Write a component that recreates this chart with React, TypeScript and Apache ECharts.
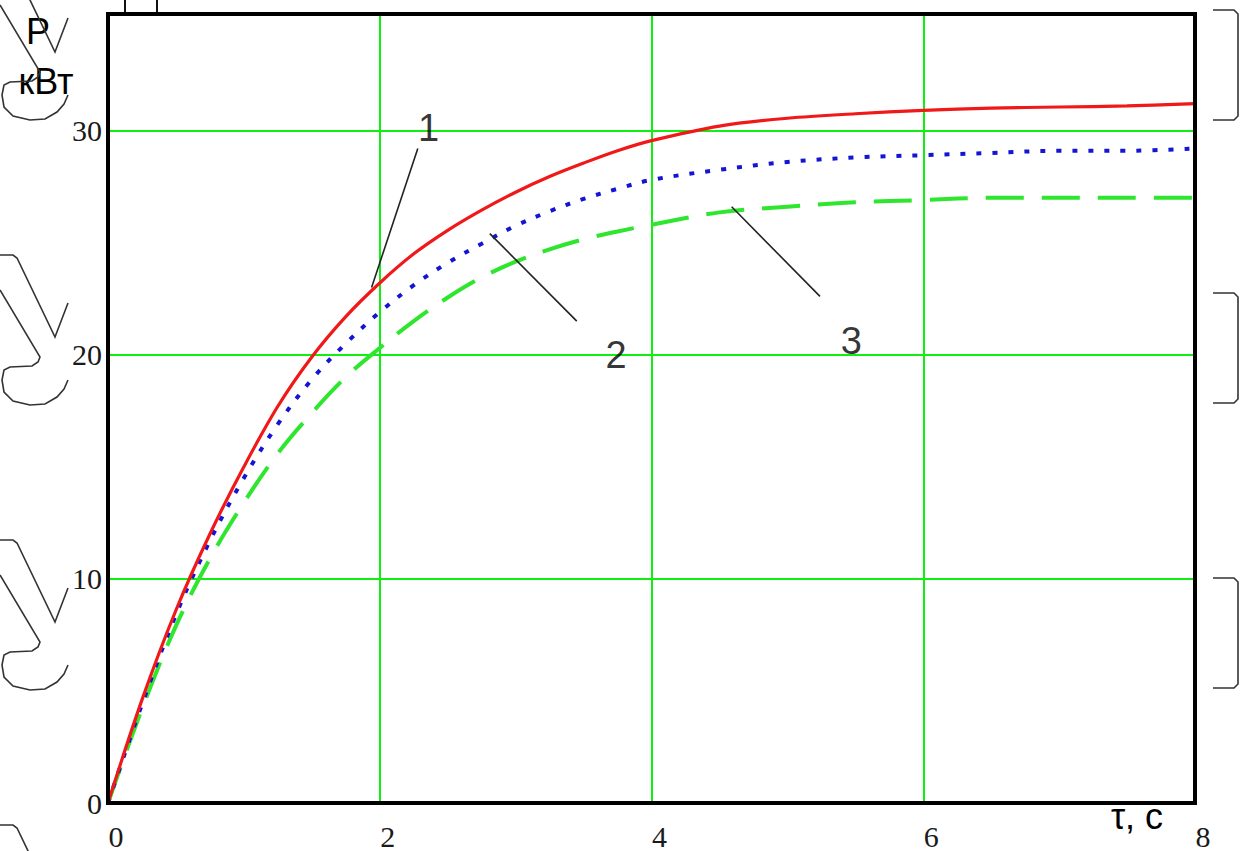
import React, { useEffect, useRef } from "react";
import * as echarts from "echarts";

// time, s
const timeS = [0, 0.25, 0.5, 0.75, 1, 1.25, 1.5, 1.75, 2, 2.25, 2.5, 2.75, 3, 3.25, 3.5, 3.75, 4, 4.5, 5, 5.5, 6, 6.5, 7, 7.5, 8];
// P, kW — curve 1 (red, solid)
const powerCurve1 = [0, 4.6, 8.6, 12.0, 15.0, 17.7, 19.9, 21.7, 23.2, 24.5, 25.55, 26.45, 27.25, 27.95, 28.55, 29.1, 29.55, 30.2, 30.55, 30.75, 30.9, 31.0, 31.05, 31.1, 31.2];
// curve 2 (blue, dotted)
const powerCurve2 = [0, 4.4, 8.4, 11.7, 14.5, 16.9, 18.9, 20.5, 21.9, 23.1, 24.1, 24.95, 25.75, 26.4, 26.95, 27.4, 27.8, 28.25, 28.6, 28.8, 28.9, 29.0, 29.1, 29.1, 29.2];
// curve 3 (green, dashed)
const powerCurve3 = [0, 4.2, 7.9, 10.9, 13.4, 15.6, 17.4, 19.0, 20.3, 21.5, 22.55, 23.45, 24.15, 24.7, 25.15, 25.5, 25.8, 26.35, 26.6, 26.8, 26.9, 27.0, 27.0, 27.0, 27.0];

// curve numbers and their leader lines (data coordinates)
const curveNames = ["1", "2", "3"];
const curveLabelPos = [
  [2.36, 30.1],
  [3.74, 20.0],
  [5.47, 20.6],
];
const leaderFrom = [
  [1.94, 23.0],
  [2.81, 25.4],
  [4.59, 26.6],
];
const leaderTo = [
  [2.28, 29.2],
  [3.45, 21.5],
  [5.24, 22.6],
];

const yAxisTitle = ["Р", "кВт"];
const xAxisTitle = "τ, с";

// scan artefacts around the frame (decorative)
const artefactOffsets = [-285, 0, 285, 570];
const bracketTops = [10, 293, 578];

function zip(xs: number[], ys: number[]) {
  return xs.map((x, i) => [x, ys[i]]);
}

export default function App() {
  const ref = useRef<HTMLDivElement | null>(null);

  useEffect(() => {
    if (!ref.current) return;
    const chart = echarts.init(ref.current, null, { renderer: "svg" });

    const artefacts: any[] = [];
    const outer = [[0, 255], [13, 255], [17, 258], [55, 337], [68, 303]];
    const inner = [[0, 290], [40, 357], [38, 362], [32, 366], [10, 367], [4, 370], [2, 380], [4, 392], [13, 401], [30, 405], [45, 404], [57, 397], [64, 389], [68, 380]];
    artefactOffsets.forEach((dy) => {
      [outer, inner].forEach((pts) => {
        artefacts.push({
          type: "polyline",
          z: 1,
          silent: true,
          shape: { points: pts.map(([x, y]) => [x, y + dy]) },
          style: { stroke: "#333", lineWidth: 1.6, fill: null },
        });
      });
    });
    bracketTops.forEach((y0) => {
      const h = 110;
      artefacts.push({
        type: "polyline",
        silent: true,
        shape: {
          points: [[1213, y0], [1234, y0], [1238, y0 + 4], [1238, y0 + h - 4], [1234, y0 + h], [1213, y0 + h]],
        },
        style: { stroke: "#333", lineWidth: 1.6, fill: null },
      });
    });
    [125, 157].forEach((x) => {
      artefacts.push({
        type: "line",
        silent: true,
        shape: { x1: x, y1: 0, x2: x, y2: 12 },
        style: { stroke: "#111", lineWidth: 2 },
      });
    });

    const titleFont = '"Liberation Sans", Arial, sans-serif';
    const serifFont = '"Liberation Serif", "Times New Roman", serif';

    chart.setOption({
      animation: false,
      backgroundColor: "#ffffff",
      grid: {
        left: 108,
        right: 51,
        top: 14,
        bottom: 48,
        show: true,
        borderColor: "#000",
        borderWidth: 4,
        backgroundColor: "transparent",
        z: 5,
      },
      xAxis: {
        type: "value",
        min: 0,
        max: 8,
        interval: 2,
        axisLine: { show: false },
        axisTick: { show: false },
        axisLabel: {
          fontFamily: serifFont,
          fontSize: 30,
          color: "#1a1a1a",
          margin: 33,
          verticalAlign: "middle",
          padding: [0, 0, 0, 16],
        },
        splitLine: {
          show: true,
          showMinLine: false,
          showMaxLine: false,
          lineStyle: { color: "#11ee11", width: 2 },
        },
      },
      yAxis: {
        type: "value",
        min: 0,
        max: 35.2,
        interval: 10,
        axisLine: { show: false },
        axisTick: { show: false },
        axisLabel: {
          fontFamily: serifFont,
          fontSize: 30,
          color: "#1a1a1a",
          margin: 6,
          verticalAlign: "middle",
          padding: [7, 0, 0, 0],
          formatter: (v: number) => (v % 10 === 0 ? String(v) : ""),
        },
        splitLine: {
          show: true,
          showMinLine: false,
          showMaxLine: false,
          lineStyle: { color: "#11ee11", width: 2 },
        },
      },
      series: [
        {
          name: "3",
          type: "line",
          data: zip(timeS, powerCurve3),
          showSymbol: false,
          smooth: 0.35,
          lineStyle: { color: "#2ee62e", width: 4, type: [38, 18], cap: "butt" },
          z: 3,
        },
        {
          name: "2",
          type: "line",
          data: zip(timeS, powerCurve2),
          showSymbol: false,
          smooth: 0.35,
          lineStyle: { color: "#1414d4", width: 4, type: [5, 11], cap: "butt" },
          z: 3,
        },
        {
          name: "1",
          type: "line",
          data: zip(timeS, powerCurve1),
          showSymbol: false,
          smooth: 0.35,
          lineStyle: { color: "#f01818", width: 3.2 },
          z: 4,
        },
        {
          name: "leaders",
          type: "lines",
          coordinateSystem: "cartesian2d",
          silent: true,
          data: leaderFrom.map((p, i) => ({ coords: [p, leaderTo[i]] })),
          lineStyle: { color: "#222", width: 1.6, opacity: 1 },
          z: 4,
        },
        {
          name: "labels",
          type: "scatter",
          silent: true,
          symbolSize: 1,
          itemStyle: { color: "transparent" },
          data: curveLabelPos.map((p, i) => ({ value: p, name: curveNames[i] })),
          label: {
            show: true,
            position: "inside",
            formatter: "{b}",
            fontFamily: titleFont,
            fontSize: 38,
            color: "#000",
          },
          z: 6,
        },
      ],
      graphic: [
        ...artefacts,
        {
          type: "text",
          x: 38,
          y: 31,
          style: {
            text: yAxisTitle[0],
            font: `36px ${titleFont}`,
            fill: "#000",
            align: "center",
            verticalAlign: "middle",
          },
        },
        {
          type: "text",
          x: 46,
          y: 81,
          style: {
            text: yAxisTitle[1],
            font: `36px ${titleFont}`,
            fill: "#000",
            align: "center",
            verticalAlign: "middle",
          },
        },
        {
          type: "text",
          x: 1137,
          y: 816,
          style: {
            text: xAxisTitle,
            font: `36px ${titleFont}`,
            fill: "#000",
            align: "center",
            verticalAlign: "middle",
          },
        },
      ],
    });

    return () => {
      chart.dispose();
    };
  }, []);

  return (
    <div
      ref={ref}
      style={{ position: "fixed", left: 0, top: 0, width: 1246, height: 851, background: "#fff" }}
    />
  );
}
